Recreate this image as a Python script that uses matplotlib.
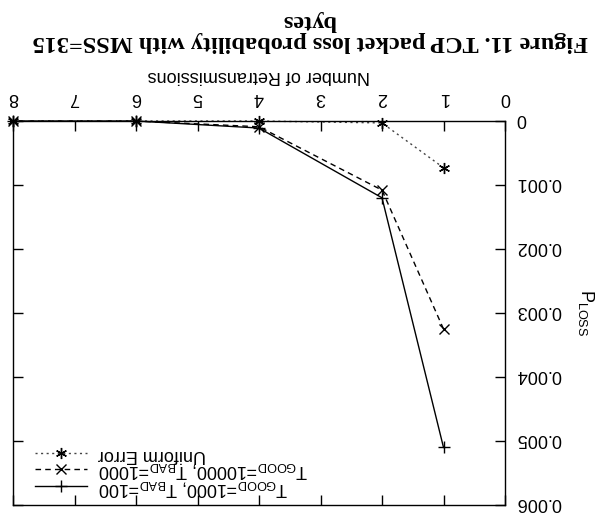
import matplotlib
matplotlib.use("Agg")
import matplotlib.pyplot as plt
from matplotlib.transforms import ScaledTranslation

# ---- data ----
retrans = [1, 2, 4, 6, 8]
p_good1000 = [0.0051, 0.0012, 0.00011, 0.0, 0.0]
p_good10000 = [0.00325, 0.00108, 0.00009, 0.0, 0.0]
p_uniform = [0.00073, 0.00003, 0.0, 0.0, 0.0]
labels = [r"T$_{\mathrm{GOOD}}$=1000, T$_{\mathrm{BAD}}$=100",
          r"T$_{\mathrm{GOOD}}$=10000, T$_{\mathrm{BAD}}$=1000",
          "Uniform Error"]
xticks = [0, 1, 2, 3, 4, 5, 6, 7, 8]
yticks = [0, 0.001, 0.002, 0.003, 0.004, 0.005, 0.006]
ytick_labels = ["0", "0.001", "0.002", "0.003", "0.004", "0.005", "0.006"]
title = "Figure 11. TCP packet loss probability with MSS=315\nbytes"
xlabel = "Number of Retransmissions"
ylabel = r"P$_{\mathrm{LOSS}}$"

plt.rcParams['font.family'] = ['Liberation Sans', 'DejaVu Sans']
plt.rcParams['mathtext.fontset'] = 'custom'
plt.rcParams['mathtext.rm'] = 'Liberation Sans'
plt.rcParams['mathtext.it'] = 'Liberation Sans'

fig = plt.figure(figsize=(6.15, 5.16), dpi=100)
ax = fig.add_axes([13/615, 1-505/516, (505-13)/615, (505-121)/516])

asterisk = (6, 2, 0)
l1, = ax.plot(retrans, p_good1000, color='black', lw=1.0, ls='-',
              marker='+', ms=8, mew=1.0, clip_on=False)
l2, = ax.plot(retrans, p_good10000, color='black', lw=1.0, ls=(0, (4, 3)),
              marker='x', ms=6.5, mew=1.0, clip_on=False)
l3, = ax.plot(retrans, p_uniform, color='#444444', lw=1.0, ls=(0, (1.5, 2.5)),
              marker=asterisk, ms=8, mew=1.0, mec='black', clip_on=False)

ax.set_xlim(8, 0)
ax.set_ylim(0.006, 0)
ax.xaxis.set_label_position('top')
ax.yaxis.set_label_position('right')
ax.tick_params(axis='both', direction='in', length=7, width=1.0,
               top=True, bottom=True, left=True, right=True,
               labeltop=True, labelbottom=False, labelleft=False, labelright=True,
               labelsize=13)
ax.tick_params(axis='x', pad=11)
ax.tick_params(axis='y', pad=8)

ax.set_xticks(xticks)
ax.set_xticklabels([str(v) for v in xticks], rotation=180, va='bottom', ha='center')
ax.set_yticks(yticks)
ax.set_yticklabels(ytick_labels, rotation=180, va='center', ha='left')
shift_up = ScaledTranslation(0, 3/100, fig.dpi_scale_trans)
for lab in ax.get_yticklabels():
    lab.set_transform(lab.get_transform() + shift_up)
for s in ax.spines.values():
    s.set_linewidth(1.0)

ax.set_xlabel(xlabel, fontsize=13, rotation=180, labelpad=6)
ax.set_ylabel(ylabel, fontsize=13, rotation=270, va='center', ha='center')
ax.yaxis.set_label_coords(1.165, 0.5)

leg = ax.legend([l3, l2, l1], [labels[2], labels[1], labels[0]],
                loc='lower left', frameon=False, fontsize=13,
                handlelength=2.9, labelspacing=-0.15, handletextpad=0.6,
                borderaxespad=0.0, bbox_to_anchor=(0.03, 0.0))
for t in leg.get_texts():
    t.set_rotation(180)

fig.text(310/615, 1-31/516, title, rotation=180, ha='center', va='center',
         multialignment='center', family='Liberation Serif', fontweight='bold',
         fontsize=17.5, linespacing=1.05)

fig.savefig("out.png", dpi=100)
